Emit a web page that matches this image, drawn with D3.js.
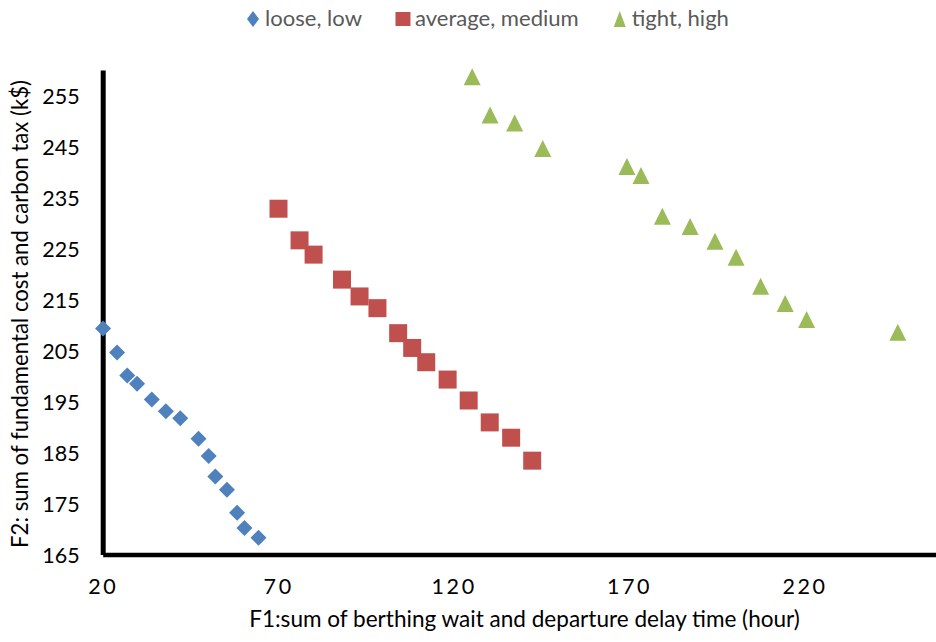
<!DOCTYPE html>
<html>
<head>
<meta charset="utf-8">
<script src="https://cdn.jsdelivr.net/npm/d3@7"></script>
<style>
  html, body { margin: 0; padding: 0; background: #fff; }
  svg { display: block; font-family: Lato, "Noto Sans", sans-serif; }
</style>
</head>
<body>
<svg id="chart" width="936" height="642"></svg>
<script>
// Series: F1 (hours) vs F2 (k$) for three scheduling settings
const seriesNames = ["loose, low", "average, medium", "tight, high"];
const seriesColors = ["#4F81BD", "#C0504D", "#9BBB59"];

const looseF1 = [20.1, 24.1, 27.0, 29.8, 34.0, 38.0, 42.1, 47.3, 50.2, 52.1, 55.4, 58.3, 60.4, 64.4];
const looseF2 = [209.3, 204.6, 200.1, 198.5, 195.4, 193.1, 191.7, 187.7, 184.3, 180.3, 177.7, 173.2, 170.2, 168.3];

const averageF1 = [70.1, 76.1, 80.1, 88.2, 93.2, 98.3, 104.2, 108.2, 112.2, 118.3, 124.3, 130.3, 136.4, 142.4];
const averageF2 = [232.8, 226.6, 223.8, 218.9, 215.6, 213.3, 208.4, 205.5, 202.7, 199.3, 195.2, 190.9, 187.9, 183.4];

const tightF1 = [125.3, 130.4, 137.4, 145.4, 169.4, 173.4, 179.5, 187.4, 194.5, 200.5, 207.5, 214.5, 220.6, 246.6];
const tightF2 = [258.7, 251.2, 249.6, 244.6, 241.1, 239.3, 231.3, 229.3, 226.4, 223.3, 217.6, 214.2, 211.1, 208.6];

const xTickValues = [20, 70, 120, 170, 220];
const yTickValues = [165, 175, 185, 195, 205, 215, 225, 235, 245, 255];

const xDomain = [20, 260];
const yDomain = [165, 260];

const xTitle = "F1:sum of berthing wait and departure delay time (hour)";
const yTitle = "F2: sum of fundamental cost and carbon tax (k$)";

const seriesF1 = [looseF1, averageF1, tightF1];
const seriesF2 = [looseF2, averageF2, tightF2];
const shapes = ["diamond", "square", "triangle"];

const svg = d3.select("#chart");

const x = d3.scaleLinear().domain(xDomain).range([102.7, 102.7 + 240 * 3.509]);
const y = d3.scaleLinear().domain(yDomain).range([554.5, 554.5 - 95 * 5.1]);

// marker path generator, centred on the bounding box
function markerPath(shape, w, h) {
  const hw = w / 2, hh = h / 2;
  if (shape === "diamond") return `M0,${-hh}L${hw},0L0,${hh}L${-hw},0Z`;
  if (shape === "square") return `M${-hw},${-hh}H${hw}V${hh}H${-hw}Z`;
  return `M0,${-hh}L${hw},${hh}L${-hw},${hh}Z`;
}
const plotSize = { diamond: [16, 16], square: [18, 18], triangle: [17, 17] };
const legendSize = { diamond: [12, 16], square: [15, 14], triangle: [12, 16] };

// fit a text element's font size to a target width
function fitWidth(sel, target) {
  const node = sel.node();
  const fs = parseFloat(sel.attr("font-size"));
  const w = node.getComputedTextLength();
  const size = fs * target / w;
  sel.attr("font-size", size.toFixed(2));
  return size;
}

// X axis
const xAxis = d3.axisBottom(x).tickValues(xTickValues).tickSize(0).tickSizeOuter(0).tickPadding(0);
const gx = svg.append("g").attr("transform", "translate(0,554.5)").call(xAxis);
gx.select(".domain").attr("stroke", "#000").attr("stroke-width", 4.5);
gx.selectAll(".tick text")
  .attr("y", 0).attr("dy", 0)
  .attr("transform", "translate(0,39)")
  .attr("font-size", 21.5).attr("font-family", "Lato, sans-serif")
  .attr("letter-spacing", "2.6px")
  .attr("fill", "#000");

// Y axis
const yAxis = d3.axisLeft(y).tickValues(yTickValues).tickSize(0).tickSizeOuter(0).tickPadding(23);
const gy = svg.append("g").attr("transform", "translate(102.7,0)").call(yAxis);
gy.select(".domain").attr("stroke", "#000").attr("stroke-width", 5);
gy.selectAll(".tick text")
  .attr("font-size", 21.5).attr("font-family", "Lato, sans-serif")
  .attr("dy", "0.36em")
  .attr("fill", "#000");

// Axis titles
const xt = svg.append("text")
  .attr("x", 524.5).attr("y", 627)
  .attr("text-anchor", "middle")
  .attr("font-size", 21).attr("fill", "#000")
  .text(xTitle);
fitWidth(xt, 551);

const yt = svg.append("text")
  .attr("transform", "translate(28,314) rotate(-90)")
  .attr("text-anchor", "middle")
  .attr("font-size", 21).attr("fill", "#000")
  .text(yTitle);
fitWidth(yt, 468);

// Points
seriesNames.forEach((name, i) => {
  const pts = seriesF1[i].map((v, k) => [v, seriesF2[i][k]]);
  const [w, h] = plotSize[shapes[i]];
  svg.append("g")
    .selectAll("path")
    .data(pts)
    .join("path")
    .attr("transform", d => `translate(${x(d[0])},${y(d[1])})`)
    .attr("d", markerPath(shapes[i], w, h))
    .attr("fill", seriesColors[i]);
});

// Legend: one row, marker then label, items laid out left to right
const legend = svg.append("g");
const probe = legend.append("text").attr("font-size", 20).text(seriesNames[0]);
const legendFont = fitWidth(probe, 97);
probe.remove();
let cursor = 253;
seriesNames.forEach((name, i) => {
  const [w, h] = legendSize[shapes[i]];
  legend.append("path")
    .attr("transform", `translate(${cursor},19)`)
    .attr("d", markerPath(shapes[i], w, h))
    .attr("fill", seriesColors[i]);
  const t = legend.append("text")
    .attr("x", cursor + 12).attr("y", 26)
    .attr("font-size", legendFont.toFixed(2)).attr("fill", "#595959")
    .text(name);
  const tw = t.node().getComputedTextLength();
  cursor += 12 + tw + 41;
});
</script>
</body>
</html>
